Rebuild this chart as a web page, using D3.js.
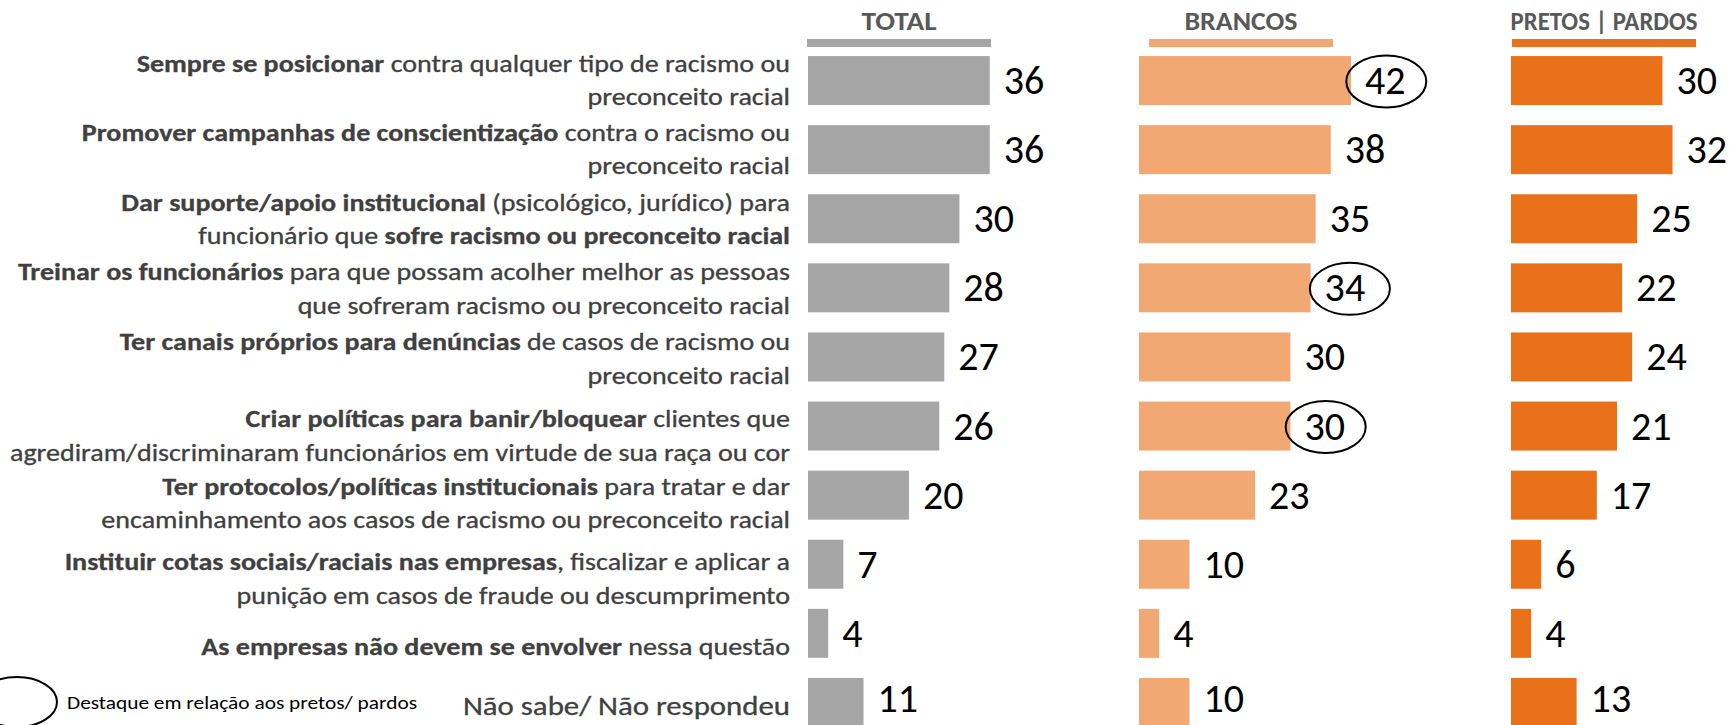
<!DOCTYPE html>
<html><head><meta charset="utf-8">
<script src="https://cdn.jsdelivr.net/npm/d3@7"></script>
<style>body{margin:0;background:#fff} svg{display:block}</style>
</head><body><svg id="c" width="1729" height="725"></svg>
<script>
// ---------- DATA ----------
const categories = [
  "**Sempre se posicionar** contra qualquer tipo de racismo ou|preconceito racial",
  "**Promover campanhas de conscientização** contra o racismo ou|preconceito racial",
  "**Dar suporte/apoio institucional** (psicológico, jurídico) para|funcionário que **sofre racismo ou preconceito racial**",
  "**Treinar os funcionários** para que possam acolher melhor as pessoas|que sofreram racismo ou preconceito racial",
  "**Ter canais próprios para denúncias** de casos de racismo ou|preconceito racial",
  "**Criar políticas para banir/bloquear** clientes que|agrediram/discriminaram funcionários em virtude de sua raça ou cor",
  "**Ter protocolos/políticas institucionais** para tratar e dar|encaminhamento aos casos de racismo ou preconceito racial",
  "**Instituir cotas sociais/raciais nas empresas**, fiscalizar e aplicar a|punição em casos de fraude ou descumprimento",
  "**As empresas não devem se envolver** nessa questão",
  "Não sabe/ Não respondeu"
];
const seriesNames = ["TOTAL", "BRANCOS", "PRETOS | PARDOS"];
const totalValues   = [36, 36, 30, 28, 27, 26, 20, 7, 4, 11];
const brancosValues = [42, 38, 35, 34, 30, 30, 23, 10, 4, 10];
const pretosValues  = [30, 32, 25, 22, 24, 21, 17, 6, 4, 13];
const highlightedBrancos = [0, 3, 5];
const legendText = "Destaque em relação aos pretos/ pardos";

// ---------- LAYOUT ----------
const W = 1729, H = 725;
const svg = d3.select("#c");
svg.append("rect").attr("width", W).attr("height", H).attr("fill", "#fff");

const FONT = "Carlito, Calibri, Lato, 'Open Sans', sans-serif";
const colors = ["#A6A6A6", "#F1A873", "#E8711A"];
const panelX = [808, 1139, 1511];
const headerOffset = [-1, 10, 1];
const headerWidth = 184;
const headerTextWidth = [75, 113, 187];

const rows = d3.range(categories.length);
const y = d3.scaleBand().domain(rows).range([46, 46 + 69.1 * rows.length])
  .paddingInner(0.291).paddingOuter(0.1455);
const x = d3.scaleLinear().domain([0, 42]).range([0, 212]);

const series = [totalValues, brancosValues, pretosValues];

// headers
series.forEach((vals, si) => {
  const hx = panelX[si] + headerOffset[si];
  svg.append("rect").attr("x", hx).attr("y", 39).attr("width", headerWidth)
    .attr("height", 8).attr("fill", colors[si]);
  svg.append("text").attr("x", hx + headerWidth / 2 - headerTextWidth[si] / 2).attr("y", 29.5)
    .attr("font-family", FONT)
    .attr("font-weight", "bold").attr("font-size", 25.5).attr("fill", "#595959")
    .attr("textLength", headerTextWidth[si]).attr("lengthAdjust", "spacingAndGlyphs")
    .text(seriesNames[si]);
});

// bars + values
const lastRow = categories.length - 1;
series.forEach((vals, si) => {
  const g = svg.append("g").attr("transform", `translate(${panelX[si]},0)`);
  g.selectAll("rect.bar").data(vals).join("rect").attr("class", "bar")
    .attr("x", 0).attr("y", (d, i) => y(i))
    .attr("width", d => x(d)).attr("height", y.bandwidth())
    .attr("fill", colors[si]);
  const labels = g.selectAll("text.val").data(vals).join("text").attr("class", "val")
    .attr("x", d => x(d) + 14)
    .attr("y", (d, i) => Math.min(y(i) + y.bandwidth() / 2 + 13.5, H - 13))
    .attr("font-family", FONT).attr("font-size", 40).attr("fill", "#000")
    .text(d => d);
  if (si === 1) {
    labels.each(function (d, i) {
      if (!highlightedBrancos.includes(i)) return;
      const b = this.getBBox();
      g.append("ellipse").attr("cx", b.x + b.width / 2 + (i === 3 ? 5 : 1))
        .attr("cy", y(i) + y.bandwidth() / 2 + 1)
        .attr("rx", 40).attr("ry", 26)
        .attr("fill", "none").attr("stroke", "#000").attr("stroke-width", 2);
    });
  }
});

// category labels
const labelRight = 790;
const lineGap = 33.5;
const labelNudge = [0, 0, 1, 1, 2, 10, 8.5, 15, 13.5, 3.5];
const LFS = 23.5;
const labelNodes = [];
categories.forEach((cat, i) => {
  const lines = cat.split("|");
  const c = y(i) + y.bandwidth() / 2 + labelNudge[i];
  const fs = i === lastRow ? LFS * 1.1 : LFS;
  lines.forEach((ln, li) => {
    const cy = c + (li - (lines.length - 1) / 2) * lineGap;
    const t = svg.append("text").attr("text-anchor", "end")
      .attr("font-family", FONT).attr("font-size", fs).attr("fill", "#404040")
      .attr("stroke", "#404040").attr("stroke-width", 0.3)
      .attr("transform", `translate(${labelRight},${cy + 0.34 * fs})`);
    ln.split("**").forEach((seg, k) => {
      if (!seg) return;
      t.append("tspan").attr("font-weight", k % 2 ? "bold" : "normal").text(seg);
    });
    labelNodes.push({ node: t, row: i, line: li, cy: cy + 0.34 * fs });
  });
});
// condense horizontally to match target widths of reference lines
const refs = [{ row: 5, line: 1, w: 781 }, { row: 3, line: 0, w: 771 }, { row: 0, line: 0, w: 654 }];
const ks = refs.map(r => {
  const n = labelNodes.find(o => o.row === r.row && o.line === r.line);
  return r.w / n.node.node().getComputedTextLength();
});
const kx = d3.mean(ks);
labelNodes.forEach(o => o.node.attr("transform", `translate(${labelRight},${o.cy}) scale(${kx},1)`));

// legend
svg.append("ellipse").attr("cx", 17).attr("cy", 702).attr("rx", 40).attr("ry", 25)
  .attr("fill", "none").attr("stroke", "#000").attr("stroke-width", 2);
const lt = svg.append("text").attr("x", 67).attr("y", 709)
  .attr("font-family", FONT).attr("font-size", 17.5).attr("fill", "#000").text(legendText);
lt.attr("textLength", 350).attr("lengthAdjust", "spacingAndGlyphs");
</script></body></html>
